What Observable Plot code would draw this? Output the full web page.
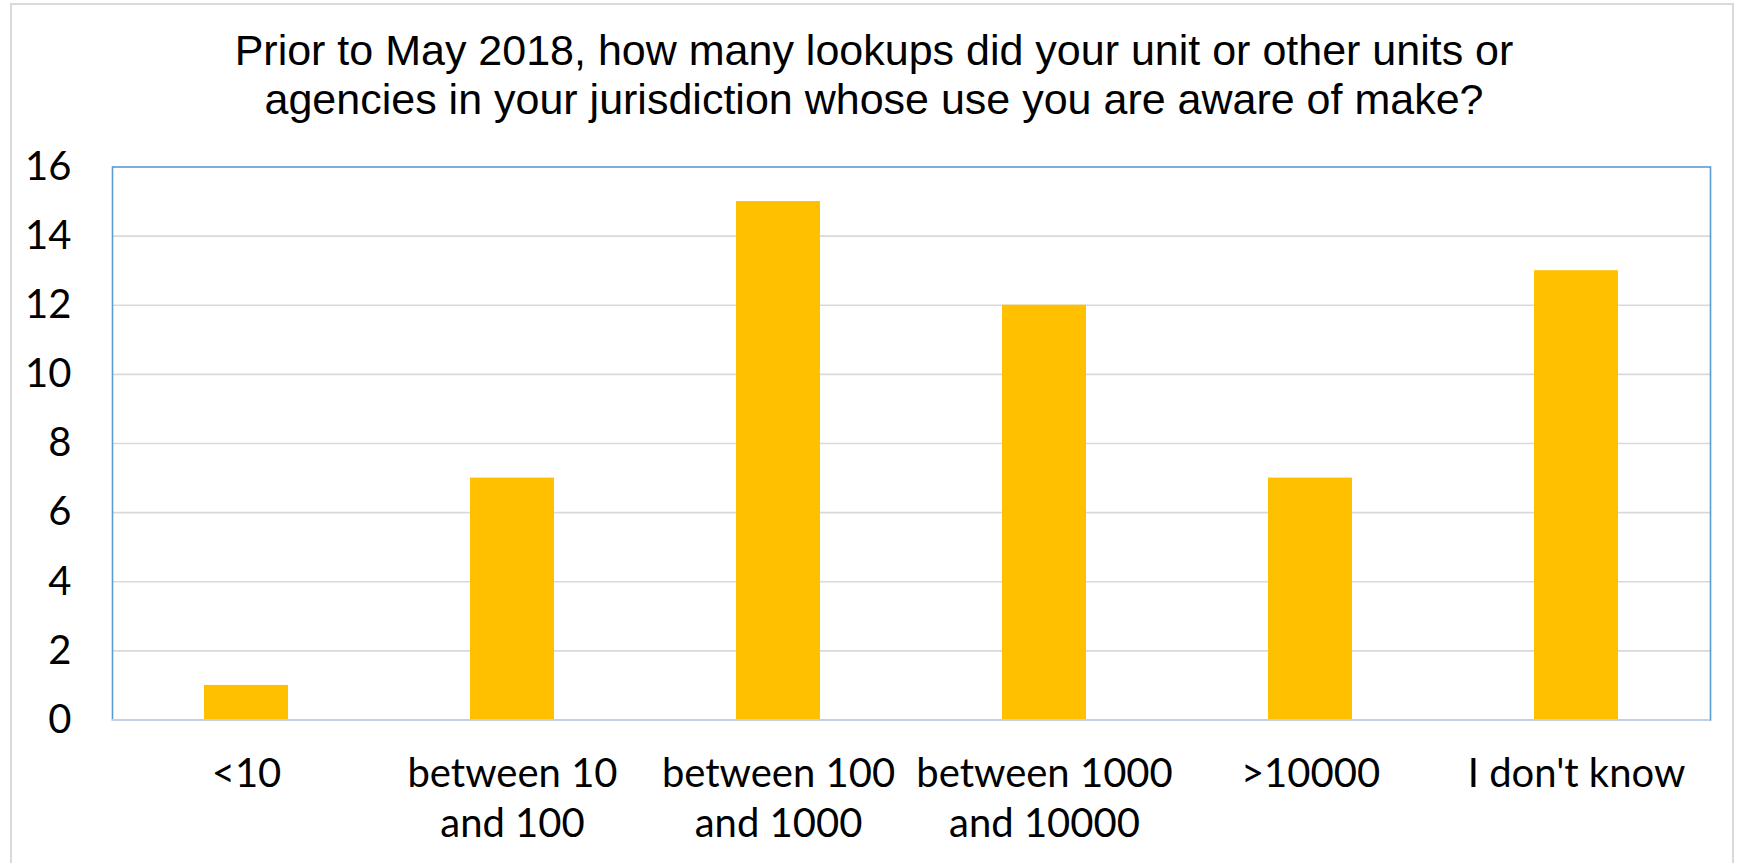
<!DOCTYPE html>
<html>
<head>
<meta charset="utf-8">
<script src="https://cdn.jsdelivr.net/npm/d3@7"></script>
<script src="https://cdn.jsdelivr.net/npm/@observablehq/plot@0.6"></script>
<style>
  html, body { margin: 0; padding: 0; background: #fff; }
  body { width: 1741px; height: 863px; position: relative; overflow: hidden; }
  #border { position: absolute; left: 10px; top: 3px; width: 1724px; height: 870px;
            border: 2.5px solid #d9d9d9; border-bottom: none; box-sizing: border-box; }
  #title { position: absolute; left: 11px; width: 1726px; top: 26px; text-align: center;
           font-family: "Liberation Sans", Arial, sans-serif; font-size: 43px; line-height: 49px; color: #000; }
  #chart { position: absolute; left: 0; top: 140px; }
</style>
</head>
<body>
<div id="border"></div>
<div id="title">Prior to May 2018, how many lookups did your unit or other units or<br>agencies in your jurisdiction whose use you are aware of make?</div>
<div id="chart"></div>
<script>
const categories = ["<10", "between 10\nand 100", "between 100\nand 1000", "between 1000\nand 10000", ">10000", "I don't know"];
const counts = [1, 7, 15, 12, 7, 13];
const yTicks = [0, 2, 4, 6, 8, 10, 12, 14, 16];

const data = categories.map((c, i) => ({category: c, count: counts[i]}));

const chart = Plot.plot({
  width: 1741,
  height: 723,
  marginTop: 26.5,
  marginBottom: 143.5,
  marginLeft: 112,
  marginRight: 31,
  style: {fontFamily: "Lato, sans-serif", fontSize: "40px", color: "#000", background: "transparent"},
  x: {domain: categories, paddingInner: 0.684, paddingOuter: 0.342, label: null},
  y: {domain: [0, 16], ticks: yTicks, label: null},
  marks: [
    Plot.gridY(yTicks.filter(t => t > 0 && t < 16), {stroke: "#d9d9d9", strokeOpacity: 1, strokeWidth: 1.6}),
    Plot.barY(data, {x: "category", y: "count", fill: "#FFC000"}),
    Plot.frame({stroke: "#5B9BD5", strokeWidth: 1.6}),
    Plot.ruleY([0], {stroke: "#c3d0e3", strokeWidth: 2}),
    Plot.axisY({ticks: yTicks, tickSize: 0, tickPadding: 41, fontSize: 40, label: null}),
    Plot.axisX({tickSize: 0, tickPadding: 31, fontSize: 40, lineHeight: 1.25, label: null})
  ]
});
document.getElementById("chart").appendChild(chart);
</script>
</body>
</html>
